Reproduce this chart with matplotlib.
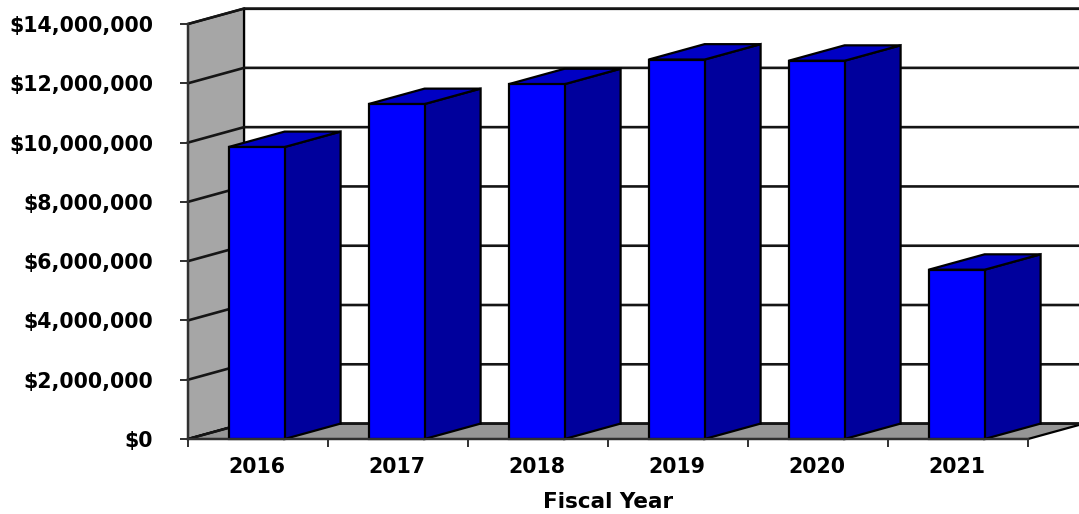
import matplotlib.pyplot as plt
from matplotlib.patches import Polygon
from matplotlib.ticker import FuncFormatter

years = ["2016", "2017", "2018", "2019", "2020", "2021"]
revenue = [9_850_000, 11_300_000, 11_970_000, 12_800_000, 12_760_000, 5_710_000]
y_ticks = [0, 2_000_000, 4_000_000, 6_000_000, 8_000_000, 10_000_000, 12_000_000, 14_000_000]

# pseudo-3D look: depth offset in data units (x = categories, y = dollars)
DEPTH_X = 0.4
DEPTH_Y = 520_000
BAR_LEFT = 0.29
BAR_W = 0.4

plt.rcParams["font.family"] = "DejaVu Sans"
plt.rcParams["font.weight"] = "bold"

fig = plt.figure(figsize=(10.79, 5.14), dpi=100)
ax = fig.add_axes([188 / 1079, 75 / 514, 840 / 1079, 415 / 514])
ax.patch.set_visible(False)

n = len(years)
top = y_ticks[-1]


def face(pts, color, z):
    ax.add_patch(Polygon(pts, closed=True, facecolor=color, edgecolor="black",
                         linewidth=1.6, zorder=z, clip_on=False, joinstyle="miter"))


# walls and floor
face([(DEPTH_X, DEPTH_Y), (n + DEPTH_X, DEPTH_Y), (n + DEPTH_X, top + DEPTH_Y),
      (DEPTH_X, top + DEPTH_Y)], "white", 0)
face([(0, 0), (0, top), (DEPTH_X, top + DEPTH_Y), (DEPTH_X, DEPTH_Y)], "#a6a6a6", 0.5)
face([(0, 0), (n, 0), (n + DEPTH_X, DEPTH_Y), (DEPTH_X, DEPTH_Y)], "#969696", 0.5)

# gridlines running along the side wall and the back wall
for v in y_ticks:
    ax.plot([0, DEPTH_X, n + DEPTH_X], [v, v + DEPTH_Y, v + DEPTH_Y],
            color="#151515", lw=1.9, zorder=1, clip_on=False)

# the boxes
for i, v in enumerate(revenue):
    x0 = i + BAR_LEFT
    x1 = x0 + BAR_W
    face([(x1, 0), (x1 + DEPTH_X, DEPTH_Y), (x1 + DEPTH_X, v + DEPTH_Y), (x1, v)], "#00009c", 3)
    face([(x0, v), (x1, v), (x1 + DEPTH_X, v + DEPTH_Y), (x0 + DEPTH_X, v + DEPTH_Y)], "#0000c4", 3)
    face([(x0, 0), (x1, 0), (x1, v), (x0, v)], "#0000ff", 3)

ax.set_xlim(0, n)
ax.set_ylim(0, top)

for side in ["top", "right"]:
    ax.spines[side].set_visible(False)
for side in ["left", "bottom"]:
    ax.spines[side].set_color("#303030")
    ax.spines[side].set_linewidth(1.6)
    ax.spines[side].set_zorder(4)

ax.set_yticks(y_ticks)
ax.yaxis.set_major_formatter(FuncFormatter(lambda v, _: f"${v:,.0f}"))
ax.tick_params(axis="y", direction="out", length=6, width=1.4, pad=19,
               labelsize=14.8, colors="#303030", labelcolor="black")

ax.set_xticks(range(n + 1))
ax.set_xticklabels([])
ax.set_xticks([i + BAR_LEFT + BAR_W / 2 for i in range(n)], minor=True)
ax.set_xticklabels(years, minor=True)
ax.tick_params(axis="x", which="major", direction="out", length=6, width=1.4, colors="#303030")
ax.tick_params(axis="x", which="minor", length=0, pad=13, labelsize=14.8)

ax.set_xlabel("Fiscal Year", fontsize=15.5, fontweight="bold", labelpad=11)

fig.savefig("out.png", dpi=100)
